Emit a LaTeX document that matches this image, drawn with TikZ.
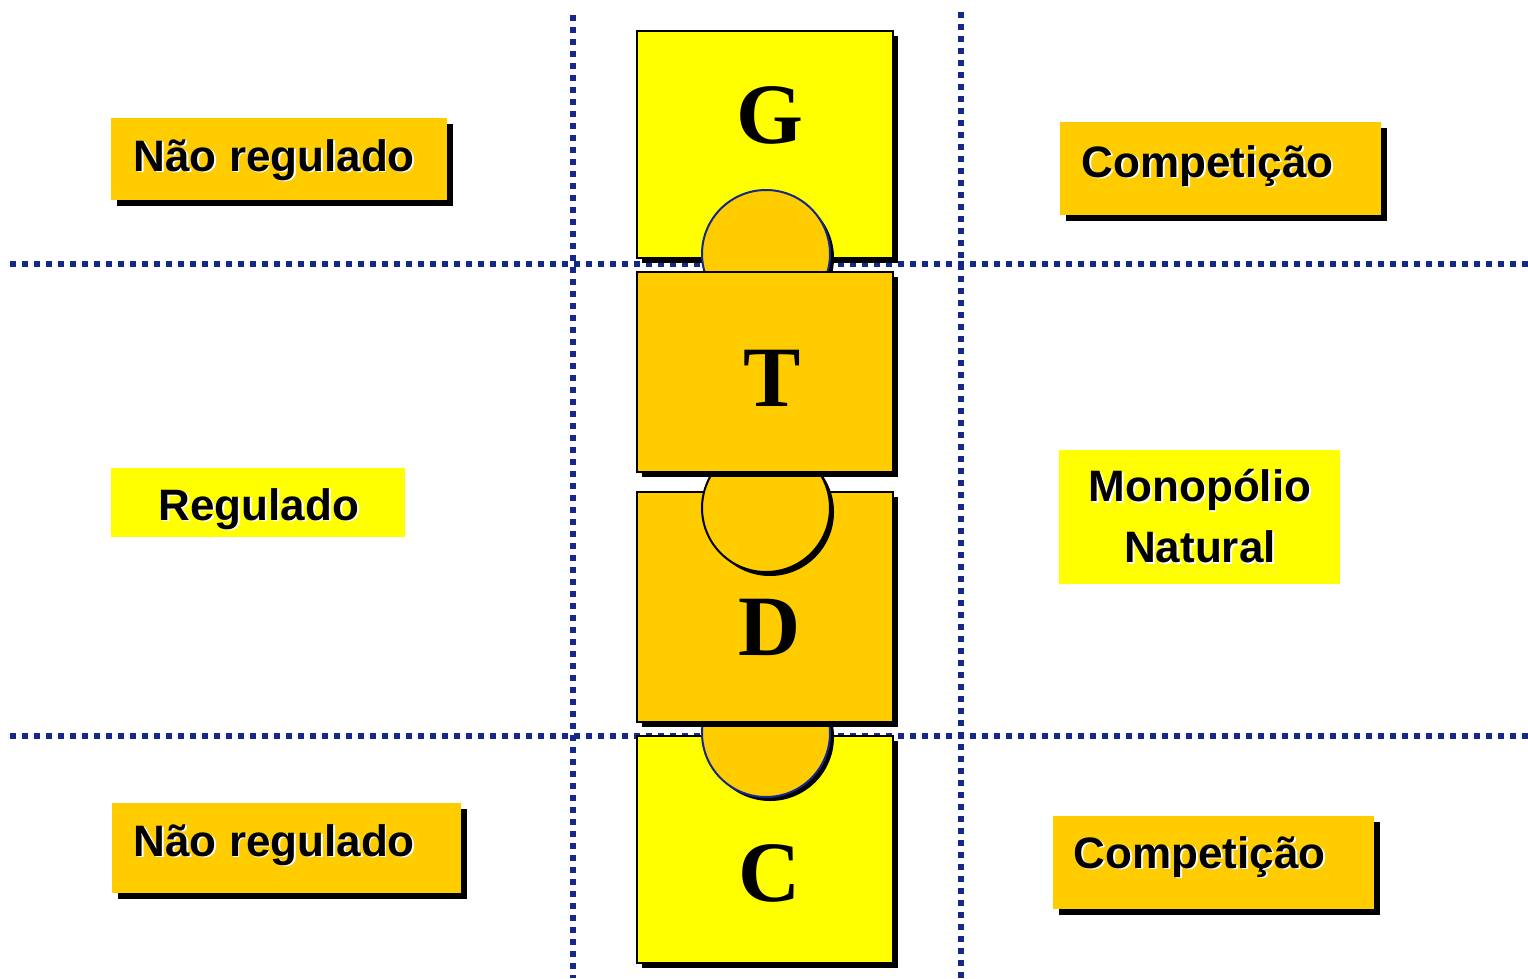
\documentclass[tikz,border=0pt]{standalone}
\usepackage{fontspec}
\setmainfont{Liberation Sans}
\newfontfamily\letterfont{Liberation Serif}
\usetikzlibrary{shadows,positioning}
\definecolor{gold}{RGB}{255,204,0}
\definecolor{lemon}{RGB}{255,255,0}
\definecolor{dotblue}{RGB}{20,40,140}
% black text with a thin white emboss
\newcommand{\embossed}[1]{\makebox[0pt][l]{\hspace{1.8pt}\raisebox{-1.8pt}{\color{white}#1}}#1}

\begin{document}
\begin{tikzpicture}
  [x=1pt, y=-1pt, line width=1.5pt,
   divider/.style={draw=dotblue, line width=5.5pt, dash pattern=on 6pt off 6pt},
   block/.style={draw=black, line width=1.5pt, inner sep=0pt, minimum width=256pt,
     drop shadow={shadow xshift=5pt, shadow yshift=-5pt, fill=black, opacity=1}},
   joint/.style={circle, minimum size=128pt, inner sep=0pt, fill=gold, line width=2pt,
     drop shadow={shadow xshift=4pt, shadow yshift=-4pt, fill=black, opacity=1}},
   tagbox/.style={inner sep=0pt},
   shadowed/.style={drop shadow={shadow xshift=6pt, shadow yshift=-6pt, fill=black, opacity=1}},
   tagtext/.style={inner sep=0pt, font=\fontsize{44}{61}\selectfont\bfseries},
   glyph/.style={inner sep=0pt, font=\letterfont\fontsize{86}{86}\selectfont\bfseries}]

\useasboundingbox (0,0) rectangle (1528,978);

% dotted grid
\draw[divider] (573,15) -- (573,978);
\draw[divider] (961,12) -- (961,978);
\draw[divider] (10,264) -- (1528,264);
\draw[divider] (10,736) -- (1528,736);

% the chain G - T - D - C
\node[block, fill=lemon, minimum height=227pt] (gen) at (765,144.5) {};
\node[joint, draw=dotblue] (gt) at (766,254) {};
\node[block, fill=lemon, minimum height=227pt] (com) at (765,849.5) {};
\node[joint, draw=dotblue] (dc) at (766,733) {};
\node[block, fill=gold, minimum height=230pt] (dis) at (765,607) {};
\node[joint, draw=black] (td) at (766,508) {};
\node[block, fill=gold, minimum height=200pt] (tra) at (765,372) {};

\node[glyph] (gl) at (770,115) {G};
\node[glyph] (tl) at (772,378) {T};
\node[glyph] (dl) at (770,627) {D};
\node[glyph] (cl) at (770,873) {C};

% left column
\node[tagbox, shadowed, fill=gold, minimum width=336pt, minimum height=82pt] (nrtop) at (279,159) {};
\node[tagtext, anchor=base west] (nrtoptext) at (133,171) {\embossed{Não regulado}};
\node[tagbox, fill=lemon, minimum width=294pt, minimum height=69pt] (reg) at (258,502.5) {};
\node[tagtext, anchor=base west] (regtext) at (158,520) {\embossed{Regulado}};
\node[tagbox, shadowed, fill=gold, minimum width=349pt, minimum height=90pt] (nrbot) at (286.5,848) {};
\node[tagtext, anchor=base west] (nrbottext) at (133,856) {\embossed{Não regulado}};

% right column
\node[tagbox, shadowed, fill=gold, minimum width=321pt, minimum height=93pt] (comptop) at (1220.5,168.5) {};
\node[tagtext, anchor=base west] (comptoptext) at (1081,177) {\embossed{Competição}};
\node[tagbox, fill=lemon, minimum width=281pt, minimum height=134pt] (mono) at (1199.5,517) {};
\node[tagtext, align=center] (monotext) at (1200,517) {\embossed{Monopólio}\\\embossed{Natural}};
\node[tagbox, shadowed, fill=gold, minimum width=321pt, minimum height=93pt] (compbot) at (1213.5,862.5) {};
\node[tagtext, anchor=base west] (compbottext) at (1073,868) {\embossed{Competição}};
\end{tikzpicture}
\end{document}
